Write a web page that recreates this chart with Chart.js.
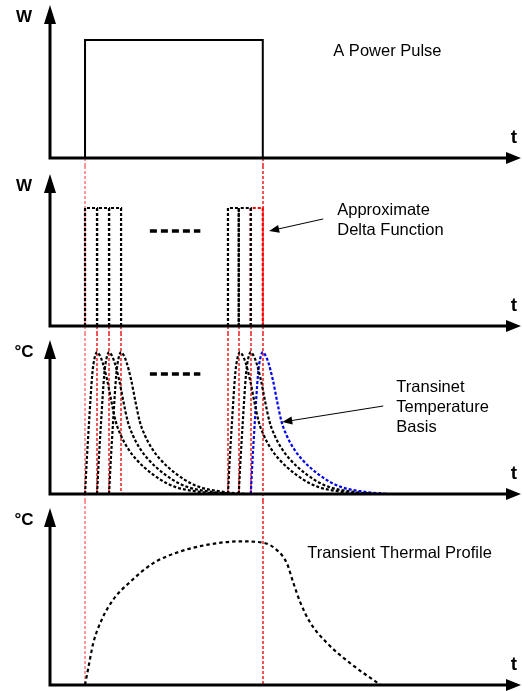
<!DOCTYPE html>
<html>
<head>
<meta charset="utf-8">
<script src="https://cdn.jsdelivr.net/npm/chart.js@4.4.0/dist/chart.umd.min.js"></script>
<style>
  html, body { margin: 0; padding: 0; background: #fff; }
  #wrap { position: relative; width: 522px; height: 691px; }
  canvas { position: absolute; left: 0; }
</style>
</head>
<body>
<div id="wrap">
  <canvas id="p1" width="522" height="166" style="top:0"></canvas>
  <canvas id="p2" width="522" height="167" style="top:166px"></canvas>
  <canvas id="p3" width="522" height="168" style="top:333px"></canvas>
  <canvas id="p4" width="522" height="190" style="top:501px"></canvas>
</div>
<script>
// time in arbitrary units, one delta pulse = 1 unit
const tMax = 39.3;

// panel 1 - the power pulse
const pulseT = [3, 3, 17.8, 17.8];
const pulseW = [0, 1, 1, 0];

// panel 2 - approximate delta functions
const deltaStart = [3, 4, 5, 14.9, 15.8, 16.8];
const deltaEnd = [4, 5, 6, 15.8, 16.8, 17.8];
const deltaColor = ['#000', '#000', '#000', '#000', '#000', '#ff0000'];

// panel 3 - transient temperature basis, one response shape shifted to each delta
const basisStart = [3, 4, 5, 14.9, 15.8, 16.8];
const basisColor = ['#000', '#000', '#000', '#000', '#000', '#0000ee'];
const basisDt = [0, 0.12, 0.33, 0.61, 0.8, 1, 1.2, 1.45, 1.85, 2.2, 2.56, 3, 3.5, 4.2, 4.9, 6.3, 7.5, 9.1, 11.4];
const basisTemp = [0, 0.2, 0.5, 0.85, 0.96, 1, 0.98, 0.93, 0.8, 0.65, 0.51, 0.41, 0.33, 0.25, 0.19, 0.1, 0.05, 0.02, 0];

// panel 4 - transient thermal profile
const profileT = [3, 3.28, 3.69, 4.39, 5.36, 6.75, 8.69, 10.92, 13.42, 15.92, 17.86, 18.97, 19.8, 20.36, 20.92, 21.75, 23.14, 25.08, 27.6];
const profileTemp = [0, 0.12, 0.29, 0.45, 0.59, 0.71, 0.84, 0.92, 0.97, 0.99, 0.98, 0.93, 0.84, 0.7, 0.57, 0.43, 0.29, 0.15, 0];

// the "- - - - -" between the two groups
const ellipsisT = [8.4, 12.6];

// red guide lines
const edgeT = [3, 17.8];
const edgeColor = ['rgba(255,60,60,0.75)', 'rgba(235,0,0,0.95)'];
const innerT = [4, 5, 6, 14.9, 15.8, 16.8];

const FONT = '"Liberation Sans", Arial, sans-serif';

const schematic = {
  id: 'schematic',
  beforeDatasetsDraw(chart, args, o) {
    const { ctx, scales: { x, y } } = chart;
    const base = y.getPixelForValue(0);
    const span = (m) => m === 'down' ? [base, chart.height] : m === 'up' ? [0, base] : [0, chart.height];
    const seg = (t, color, y0, y1) => {
      const px = Math.round(x.getPixelForValue(t));
      ctx.strokeStyle = color;
      ctx.beginPath();
      ctx.moveTo(px, y0);
      ctx.lineTo(px, y1);
      ctx.stroke();
    };
    ctx.save();
    ctx.lineWidth = 1.4;
    ctx.setLineDash([3, 2]);
    if (o.edges) edgeT.forEach((t, i) => seg(t, edgeColor[i], ...span(o.edges)));
    if (o.inner) innerT.forEach((t) => seg(t, 'rgba(235,0,0,0.95)', ...span(o.inner)));
    ctx.restore();
  },
  afterDraw(chart, args, o) {
    const { ctx, chartArea: a, scales: { x, y } } = chart;
    const base = y.getPixelForValue(0);
    const xa = a.left + 1;
    ctx.save();
    ctx.fillStyle = '#000';
    ctx.strokeStyle = '#000';

    // axes with arrow heads
    ctx.lineWidth = 3;
    ctx.beginPath();
    ctx.moveTo(xa, base + 1.5);
    ctx.lineTo(xa, a.top + 16);
    ctx.moveTo(xa - 1.5, base);
    ctx.lineTo(a.right - 13, base);
    ctx.stroke();
    ctx.beginPath();
    ctx.moveTo(xa, a.top);
    ctx.lineTo(xa - 6, a.top + 19);
    ctx.lineTo(xa + 6, a.top + 19);
    ctx.closePath();
    ctx.moveTo(a.right, base);
    ctx.lineTo(a.right - 15, base - 6);
    ctx.lineTo(a.right - 15, base + 6);
    ctx.closePath();
    ctx.fill();

    // axis names
    ctx.textBaseline = 'middle';
    ctx.textAlign = 'center';
    ctx.font = 'bold 17px ' + FONT;
    ctx.fillText(o.yLabel, a.left - 25, a.top + 12);
    ctx.font = 'bold 19px ' + FONT;
    ctx.fillText('t', a.right - 7, base - 20);

    // notes
    ctx.textAlign = 'left';
    ctx.font = '16.5px ' + FONT;
    const py = y.getPixelForValue(o.note.v);
    o.note.lines.forEach((s, i) => ctx.fillText(s, x.getPixelForValue(o.note.t), py + i * 20));

    // pointer arrow
    if (o.pointer) {
      const [t0, v0, t1, v1] = o.pointer;
      const x0 = x.getPixelForValue(t0), y0 = y.getPixelForValue(v0);
      const x1 = x.getPixelForValue(t1), y1 = y.getPixelForValue(v1);
      const ang = Math.atan2(y1 - y0, x1 - x0);
      ctx.lineWidth = 1;
      ctx.beginPath();
      ctx.moveTo(x0, y0);
      ctx.lineTo(x1 - 8 * Math.cos(ang), y1 - 8 * Math.sin(ang));
      ctx.stroke();
      ctx.beginPath();
      ctx.moveTo(x1, y1);
      ctx.lineTo(x1 - 10 * Math.cos(ang) + 4 * Math.sin(ang), y1 - 10 * Math.sin(ang) - 4 * Math.cos(ang));
      ctx.lineTo(x1 - 10 * Math.cos(ang) - 4 * Math.sin(ang), y1 - 10 * Math.sin(ang) + 4 * Math.cos(ang));
      ctx.closePath();
      ctx.fill();
    }
    ctx.restore();
  }
};

function panel(id, pad, yMax, datasets, opts) {
  return new Chart(document.getElementById(id), {
    type: 'line',
    data: { datasets },
    options: {
      responsive: false,
      animation: false,
      devicePixelRatio: 1,
      layout: { padding: { left: 49, right: 1, top: pad[0], bottom: pad[1] } },
      scales: {
        x: { type: 'linear', min: 0, max: tMax, display: false },
        y: { min: 0, max: yMax, display: false }
      },
      elements: { point: { radius: 0 }, line: { borderWidth: 2, fill: false } },
      plugins: { legend: { display: false }, tooltip: { enabled: false }, schematic: opts }
    },
    plugins: [schematic]
  });
}

const dotted = { borderDash: [3, 2], borderWidth: 2.2, tension: 0 };
const xy = (ts, vs) => ts.map((t, i) => ({ x: t, y: vs[i] }));

// panel 1
panel('p1', [5, 8], 1.297, [
  { data: xy(pulseT, pulseW), borderColor: '#000', borderWidth: 2, tension: 0 }
], { yLabel: 'W', edges: 'down', note: { t: 23.67, v: 0.9, lines: ['A Power Pulse'] } });

// panel 2
const deltaSets = deltaStart.map((s, i) => Object.assign({
  data: xy([s, s, deltaEnd[i], deltaEnd[i]], [0, 1, 1, 0]),
  borderColor: deltaColor[i]
}, dotted));
deltaSets.push({ data: xy(ellipsisT, [0.805, 0.805]), borderColor: '#000', borderWidth: 3.5, borderDash: [7, 4] });
panel('p2', [8, 7], 1.288, deltaSets, {
  yLabel: 'W', edges: 'full', inner: 'down',
  note: { t: 24, v: 0.975, lines: ['Approximate', 'Delta Function'] },
  pointer: [22.83, 0.907, 18.33, 0.805]
});

// panel 3
const basisSets = basisStart.map((s, i) => Object.assign({
  data: xy(basisDt.map((d) => s + d), basisTemp),
  borderColor: basisColor[i]
}, dotted, { cubicInterpolationMode: 'monotone' }));
basisSets.push({ data: xy(ellipsisT, [0.845, 0.845]), borderColor: '#000', borderWidth: 3.5, borderDash: [7, 4] });
panel('p3', [7, 7], 1.085, basisSets, {
  yLabel: '°C', edges: 'full', inner: 'up',
  note: { t: 28.92, v: 0.754, lines: ['Transinet', 'Temperature', 'Basis'] },
  pointer: [27.83, 0.62, 19.42, 0.507]
});

// panel 4
panel('p4', [7, 6], 1.22, [
  { data: xy(profileT, profileTemp), borderColor: '#000', borderWidth: 2.2, borderDash: [3.5, 3], cubicInterpolationMode: 'monotone' }
], { yLabel: '°C', edges: 'up', note: { t: 21.5, v: 0.91, lines: ['Transient Thermal Profile'] } });
</script>
</body>
</html>
